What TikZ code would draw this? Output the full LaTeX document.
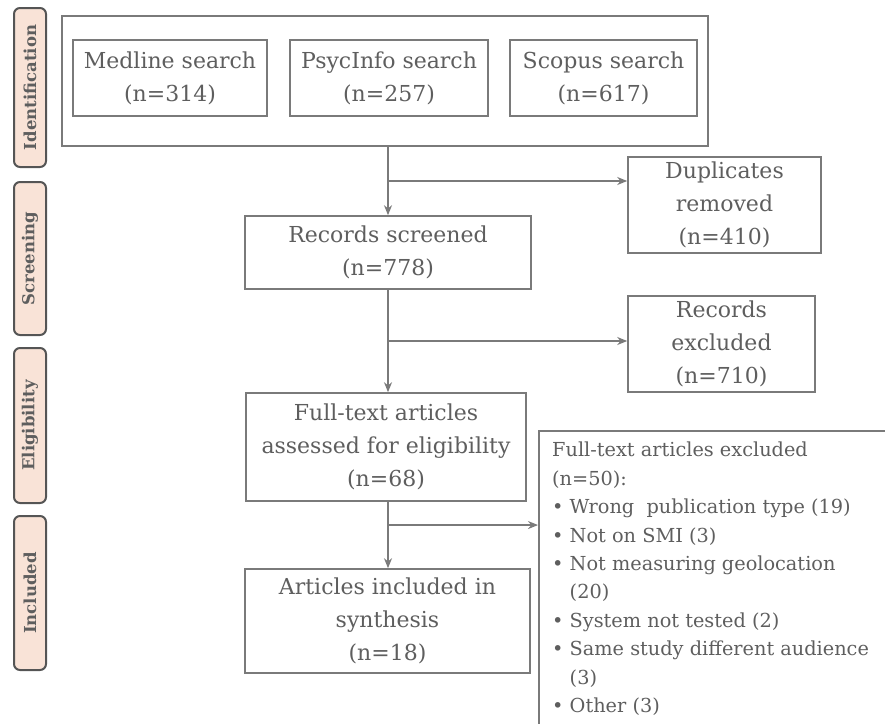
\documentclass[tikz,border=0pt]{standalone}
\usepackage{fontspec}
\setmainfont{DejaVu Serif}
\usetikzlibrary{arrows.meta,positioning,calc}
\definecolor{txtgray}{HTML}{5E5E5E}
\definecolor{linegray}{HTML}{7A7A7A}
\definecolor{tabfill}{HTML}{F9E3D7}
\definecolor{tabline}{HTML}{555555}
\tikzset{
    box/.style={draw=linegray, line width=1.6pt, text=txtgray, align=center,
        inner sep=0pt, font=\fontsize{22}{33}\selectfont},
    tab/.style={draw=tabline, fill=tabfill, line width=2pt, rounded corners=6pt,
        rotate=90, text=txtgray, inner sep=0pt, minimum height=32pt,
        font=\bfseries\fontsize{16.5}{18}\selectfont},
    arr/.style={draw=linegray, line width=1.6pt, -{Stealth[length=10pt,width=8pt]}}
}
\begin{document}
\begin{tikzpicture}[x=1pt, y=-1pt]
    \useasboundingbox (0,0) rectangle (885,723);
    % phase tabs
    \node[tab, minimum width=159pt] (tident) at (30,87.5) {Identification};
    \node[tab, minimum width=153pt] (tscreen) at (30,258.5) {Screening};
    \node[tab, minimum width=155pt] (telig) at (30,425.5) {Eligibility};
    \node[tab, minimum width=154pt] (tincl) at (30,593) {Included};
    % identification
    \node[box, minimum width=646pt, minimum height=130pt] (ident) at (385,81) {};
    \node[box, minimum width=194pt, minimum height=76pt] (medline) at (170,78) {Medline search\\(n=314)};
    \node[box, minimum width=198pt, minimum height=76pt] (psyc) at (389,78) {PsycInfo search\\(n=257)};
    \node[box, minimum width=187pt, minimum height=76pt] (scopus) at (603.5,78) {Scopus search\\(n=617)};
    % main column
    \node[box, minimum width=286pt, minimum height=73pt] (screened) at (388,252.5) {Records screened\\(n=778)};
    \node[box, minimum width=280pt, minimum height=108pt] (fulltext) at (386,447) {Full-text articles\\assessed for eligibility\\(n=68)};
    \node[box, minimum width=285pt, minimum height=104pt] (included) at (387.5,621) {Articles included in\\synthesis\\(n=18)};
    % side boxes
    \node[box, minimum width=193pt, minimum height=96pt] (dup) at (724.5,205) {Duplicates\\removed\\(n=410)};
    \node[box, minimum width=187pt, minimum height=96pt] (recexcl) at (721.5,344) {Records\\excluded\\(n=710)};
    \begin{scope}
        \clip (0,0) rectangle (885,723);
        \node[box, anchor=north west, minimum width=400pt, minimum height=330pt] (ftexcl) at (538,430) {};
    \end{scope}
    \node[anchor=north west, text=txtgray, align=left, inner sep=0pt,
        font=\fontsize{19.3}{28.4}\selectfont] (ftexcltxt) at (552,442)
        {Full-text articles excluded\\(n=50):\\
        \textbullet\ Wrong\ \ publication type (19)\\
        \textbullet\ Not on SMI (3)\\
        \textbullet\ Not measuring geolocation\\
        \hphantom{\textbullet\ }(20)\\
        \textbullet\ System not tested (2)\\
        \textbullet\ Same study different audience\\
        \hphantom{\textbullet\ }(3)\\
        \textbullet\ Other (3)};
    % connectors
    \coordinate (b1) at ($(ident.south -| screened)!0.5!(screened.north)$);
    \coordinate (b2) at ($(screened.south)!0.5!(fulltext.north -| screened)$);
    \coordinate (b3) at ($(fulltext.south -| screened)!0.35!(included.north -| screened)$);
    \draw[arr] (ident.south -| screened) -- (screened.north);
    \draw[arr] (b1) -- (b1 -| dup.west);
    \draw[arr] (screened.south) -- (fulltext.north -| screened);
    \draw[arr] (b2) -- (b2 -| recexcl.west);
    \draw[arr] (fulltext.south -| screened) -- (included.north -| screened);
    \draw[arr] (b3) -- (b3 -| ftexcl.west);
\end{tikzpicture}
\end{document}
